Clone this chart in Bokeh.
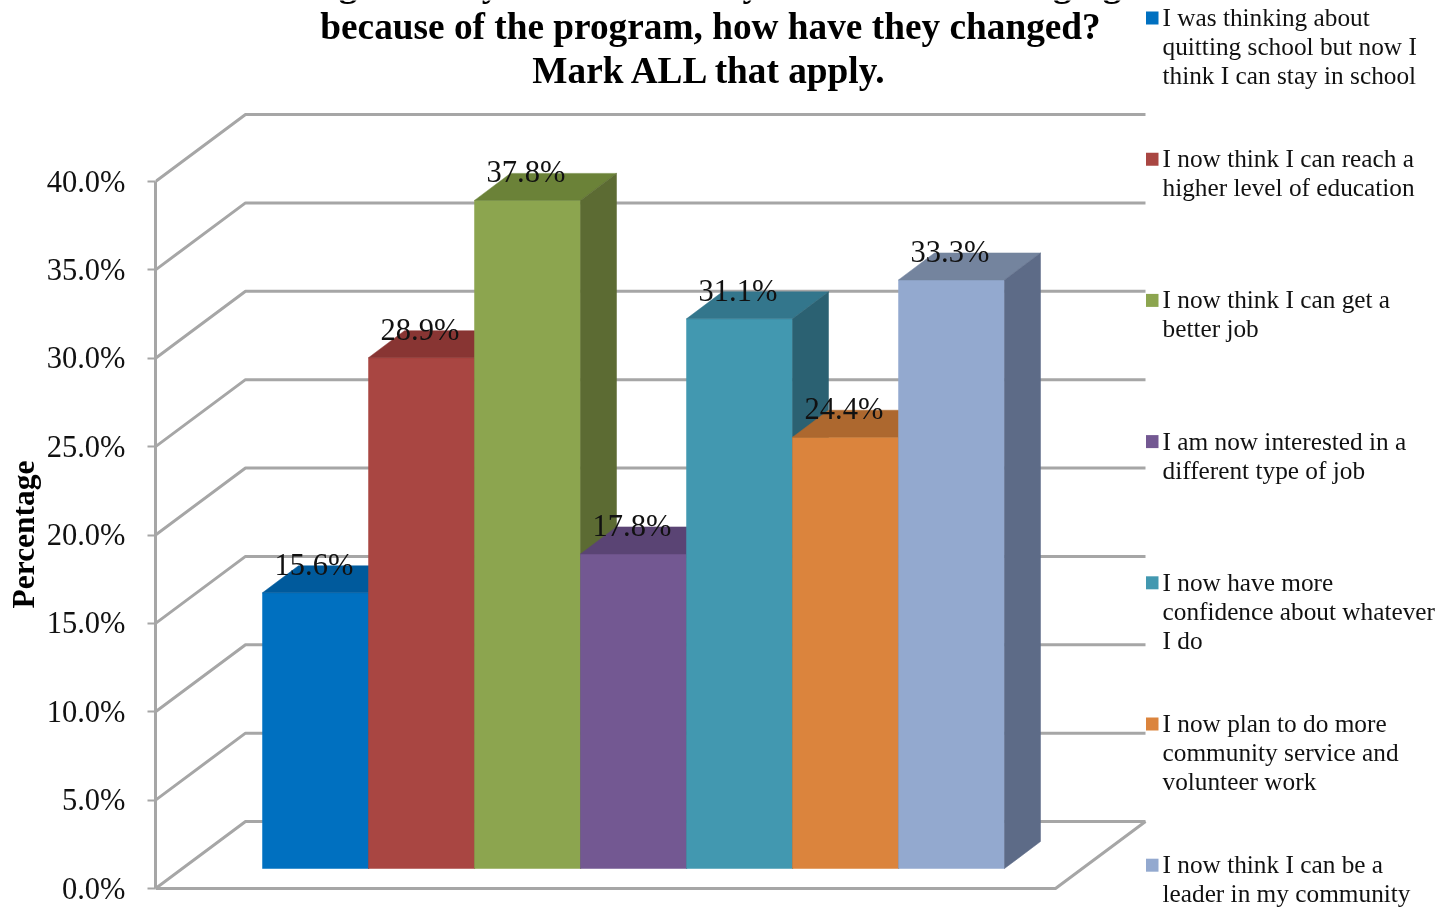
from bokeh.plotting import figure
from bokeh.models import Range1d, LinearAxis, FixedTicker, PrintfTickFormatter, Title
from bokeh.core.properties import value
from bokeh.embed import file_html
from bokeh.resources import INLINE

values = [15.6, 28.9, 37.8, 17.8, 31.1, 24.4, 33.3]
bar_labels = ["15.6%", "28.9%", "37.8%", "17.8%", "31.1%", "24.4%", "33.3%"]
ticks = [0, 5, 10, 15, 20, 25, 30, 35, 40]
front_colors = ["#0070C0", "#A94642", "#8CA54F", "#735892", "#4298B0", "#DB843D", "#93A9CF"]
top_colors = ["#005A9C", "#883533", "#6B8238", "#5A4474", "#33768C", "#AD682F", "#74849E"]
side_colors = ["#004F88", "#753029", "#5C6B33", "#4D3B63", "#2B6172", "#945826", "#5D6B87"]
legend_lines = [
    ["I was thinking about", "quitting school but now I", "think I can stay in school"],
    ["I now think I can reach a", "higher level of education"],
    ["I now think I can get a", "better job"],
    ["I am now interested in a", "different type of job"],
    ["I now have more", "confidence about whatever", "I do"],
    ["I now plan to do more", "community service and", "volunteer work"],
    ["I now think I can be a", "leader in my community"],
]
title_lines = [
    "If things about your future and your ideas are changing",
    "because of the program, how have they changed?",
    "Mark ALL that apply.",
]
axis_title = "Percentage"

# scale: 1 category = 106 px, 1 percentage point = 17.675 px
PX_X, PX_Y = 106.0, 17.675
X0, Y0 = 315.0, 888.0
W, H = 1455, 909
FRAME_LEFT = 155
FONT = value("Liberation Serif")
GRAY = "#a6a6a6"


def X(px):
    return (px - X0) / PX_X


def Y(py):
    return (Y0 - py) / PX_Y


p = figure(width=W, height=H, output_backend="svg", toolbar_location=None,
           x_range=Range1d(X(FRAME_LEFT), X(W)), y_range=Range1d(Y(H), Y(0)),
           x_axis_location=None, y_axis_location=None,
           min_border_left=FRAME_LEFT, min_border_right=0, min_border_top=0, min_border_bottom=0,
           outline_line_color=None, background_fill_color="white",
           styles={"position": "fixed", "left": "0", "top": "0"})
p.grid.visible = False

axis = LinearAxis(ticker=FixedTicker(ticks=ticks), formatter=PrintfTickFormatter(format="%.1f%%"),
                  bounds=(ticks[0], ticks[-1]),
                  axis_line_color=GRAY, axis_line_width=3,
                  major_tick_line_color=GRAY, major_tick_line_width=2,
                  major_tick_in=0, major_tick_out=8, minor_tick_line_color=None,
                  major_label_text_font="Liberation Serif", major_label_text_font_size="30.5px",
                  major_label_text_color="#111111", major_label_standoff=22)
p.add_layout(axis, "left")
p.add_layout(Title(text=axis_title, align="left", offset=H - 608, standoff=6,
                   text_font="Liberation Serif", text_font_size="31.5px", text_font_style="bold",
                   text_color="black"), "left")

# wall depth in data units
WDX, WDY = 90 / PX_X, 67 / PX_Y
x_left, x_right = X(FRAME_LEFT), X(1055)
grid_xs = [[x_left, x_left + WDX, x_right + WDX] for _ in ticks]
grid_ys = [[t, t + WDY, t + WDY] for t in ticks]
p.multi_line(grid_xs, grid_ys, line_color=GRAY, line_width=3)
p.line([x_left, x_right, x_right + WDX], [0, 0, WDY], line_color=GRAY, line_width=3)

# bars
BASE = 20 / PX_Y
BDX, BDY = 36 / PX_X, 27 / PX_Y
xs, ys, cols = [], [], []
for i, v in enumerate(values):
    l, r = i - 0.5, i + 0.5
    t = BASE + v
    xs += [[l, r, r, l], [l, r, r + BDX, l + BDX], [r, r + BDX, r + BDX, r]]
    ys += [[BASE, BASE, t, t], [t, t, t + BDY, t + BDY], [BASE, BASE + BDY, t + BDY, t]]
    cols += [front_colors[i], top_colors[i], side_colors[i]]
p.patches(xs, ys, fill_color=cols, line_color=cols, line_width=0.5)

p.text([i - 0.015 for i in range(len(values))], [BASE + v + 28 / PX_Y for v in values], text=bar_labels,
       text_font=FONT, text_font_size="30.5px", text_color="#111111",
       text_align="center", text_baseline="middle")

# title (the renderer sets alphabetic text about 0.33 em lower, so the y values allow for that)
p.text([X(680), X(710), X(710)], [Y(-17), Y(26), Y(70)], text=title_lines, text_font=FONT,
       text_font_size="37.3px", text_font_style="bold", text_color="black",
       text_align="center", text_baseline="alphabetic")

# legend
lx, ly, lt = [], [], []
for i, lines in enumerate(legend_lines):
    mid = 17.5 + 141.2 * i
    p.quad(left=X(1145.5), right=X(1158), top=Y(mid - 6.5), bottom=Y(mid + 6.5),
           fill_color=front_colors[i], line_color=None)
    for j, s in enumerate(lines):
        lx.append(X(1162))
        ly.append(Y(mid - 1 + 29 * j))
        lt.append(s)
p.text(lx, ly, text=lt, text_font=FONT, text_font_size="25.3px", text_color="#111111",
       text_align="left", text_baseline="alphabetic")

open("out.html", "w").write(file_html(p, INLINE))
